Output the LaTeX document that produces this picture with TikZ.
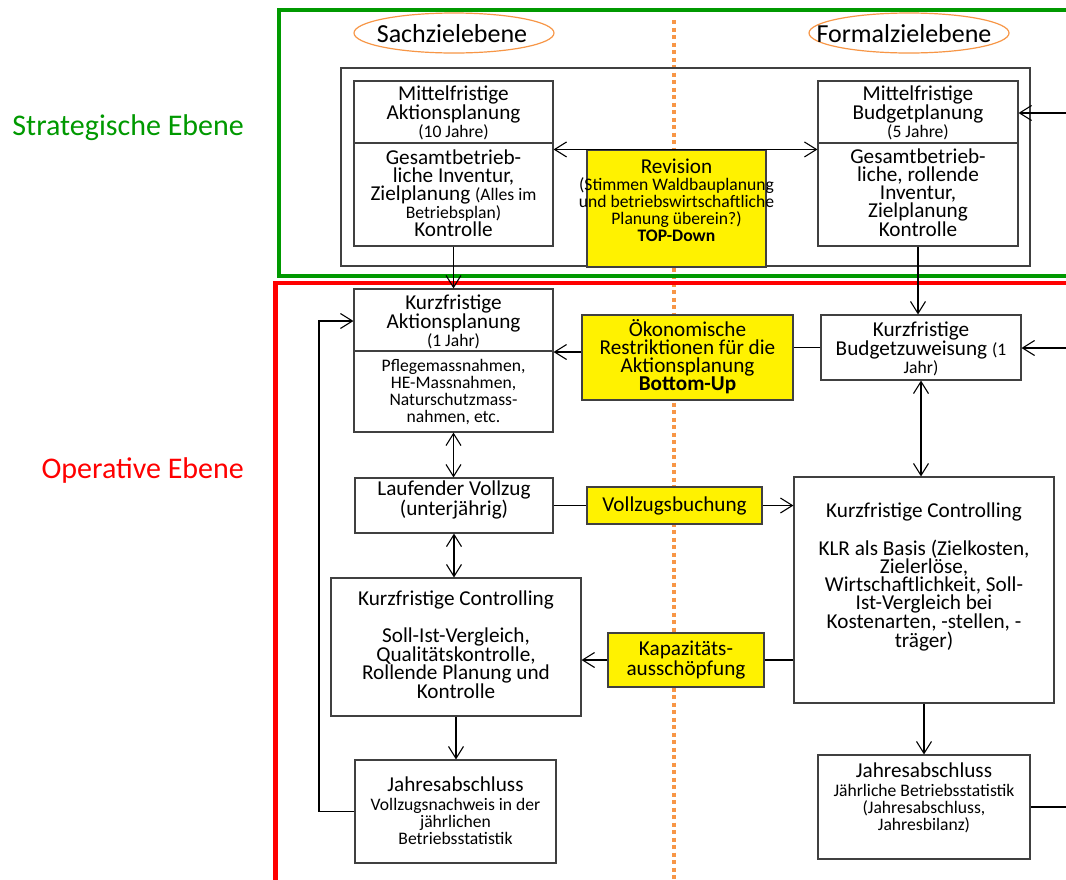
\documentclass[tikz,border=0pt]{standalone}
\usepackage{fontspec}
\setmainfont{Carlito}
\usetikzlibrary{arrows.meta,shapes.geometric}
\definecolor{stratgreen}{RGB}{0,153,0}
\definecolor{opred}{RGB}{255,0,0}
\definecolor{dotorange}{RGB}{247,150,70}
\definecolor{boxline}{RGB}{64,64,64}
\newcommand\fmain{\fontsize{21.2}{18}\selectfont}
\newcommand\fsmall{\fontsize{17.6}{17}\selectfont}
\begin{document}
\begin{tikzpicture}[x=1pt,y=-1pt,
  bx/.style={draw=boxline, line width=1.1pt, fill=white, inner sep=0pt},
  yb/.style={draw=boxline, line width=1.1pt, fill=yellow, inner sep=0pt},
  txt/.style={align=center, inner sep=0pt, font=\fmain},
  stxt/.style={align=center, inner sep=0pt, font=\fsmall},
  ell/.style={ellipse, draw=dotorange, line width=1.2pt, inner sep=0pt, minimum width=200pt, minimum height=40pt},
  etxt/.style={inner sep=0pt, font=\fontsize{26}{28}\selectfont},
  con/.style={line width=1.1pt, black},
  arr/.style={con, -{Straight Barb[length=12pt,width=15pt]}},
  darr/.style={con, {Straight Barb[length=12pt,width=15pt]}-{Straight Barb[length=12pt,width=15pt]}},
  level/.style={anchor=base east, inner sep=0pt, font=\fontsize{30}{32}\selectfont},
]
\clip (0,0) rectangle (1066,879);
\fill[white] (0,0) rectangle (1066,879);

% orange dotted divider
\draw[dotorange, line width=4pt, dash pattern=on 4pt off 3.5pt] (673.5,20) -- (673.5,890);

% level frames
\draw[stratgreen, line width=4.5pt] (1090,10) -- (279,10) -- (279,276) -- (1090,276);
\draw[opred, line width=4.5pt] (1090,283) -- (275.5,283) -- (275.5,900);

% level labels
\node[level, text=stratgreen] (lstrat) at (244,135) {Strategische Ebene};
\node[level, text=opred] (lop) at (244,478) {Operative Ebene};

% ellipses
\node[ell] (sach) at (454,33) {};
\node[etxt] (tsach) at (452,34) {Sachzielebene};
\node[ell] (formal) at (909,33) {};
\node[etxt] (tformal) at (904,34) {Formalzielebene};

% strategic frame box
\node[draw=boxline, line width=1.1pt, inner sep=0pt, minimum width=689pt, minimum height=198pt] (strat) at (685.5,167) {};

% boxes
\node[bx, minimum width=199pt, minimum height=165pt] (TL) at (453.5,163.5) {};
\draw[boxline, line width=1.1pt] (TL.west |- 0,143) -- (TL.east |- 0,143);
\node[bx, minimum width=200pt, minimum height=165pt] (TR) at (918,163.5) {};
\draw[boxline, line width=1.1pt] (TR.west |- 0,143) -- (TR.east |- 0,143);
\node[yb, minimum width=179pt, minimum height=117pt] (Rev) at (676.5,208.5) {};

\node[bx, minimum width=199pt, minimum height=143pt] (KA) at (453.5,360.5) {};
\draw[boxline, line width=1.1pt] (KA.west |- 0,351) -- (KA.east |- 0,351);
\node[yb, minimum width=211pt, minimum height=85pt] (OEK) at (687.5,357.5) {};
\node[bx, minimum width=200pt, minimum height=65pt] (BZ) at (921,347.5) {};

\node[bx, minimum width=198pt, minimum height=55pt] (LV) at (454,505.5) {};
\node[yb, minimum width=175pt, minimum height=37pt] (VB) at (674.5,505.5) {};
\node[bx, minimum width=260pt, minimum height=226pt] (KCR) at (924,590) {};

\node[bx, minimum width=250pt, minimum height=138pt] (KCL) at (456,647) {};
\node[yb, minimum width=156pt, minimum height=54pt] (KAP) at (686,660) {};

\node[bx, minimum width=201pt, minimum height=103pt] (JL) at (455.5,811.5) {};
\node[bx, minimum width=212pt, minimum height=104pt] (JR) at (924,807) {};

% texts
\node[txt] (tTL1) at (453.5,113) {Mittelfristige\\Aktionsplanung\\{\fsmall(10 Jahre)}};
\node[txt] (tTL2) at (453.5,193) {Gesamtbetrieb-\\liche Inventur,\\Zielplanung {\fsmall(Alles im}\\{\fsmall Betriebsplan)}\\Kontrolle};
\node[txt] (tTR1) at (918,113) {Mittelfristige\\Budgetplanung\\{\fsmall(5 Jahre)}};
\node[txt] (tTR2) at (918,193) {Gesamtbetrieb-\\liche, rollende\\Inventur,\\Zielplanung\\Kontrolle};
\node[stxt] (tRev) at (676.5,200) {{\fmain Revision}\\(Stimmen Waldbauplanung\\und betriebswirtschaftliche\\Planung überein?)\\\textbf{TOP-Down}};

\node[txt] (tKA1) at (453.5,322) {Kurzfristige\\Aktionsplanung\\{\fsmall(1 Jahr)}};
\node[stxt] (tKA2) at (453.5,392) {Pflegemassnahmen,\\HE-Massnahmen,\\Naturschutzmass-\\nahmen, etc.};
\node[txt] (tOEK) at (687.5,357) {Ökonomische\\Restriktionen für die\\Aktionsplanung\\\textbf{Bottom-Up}};
\node[txt] (tBZ) at (921,349) {Kurzfristige\\Budgetzuweisung {\fsmall(1}\\{\fsmall Jahr)}};

\node[txt] (tLV) at (454,500) {Laufender Vollzug\\(unterjährig)};
\node[txt] (tVB) at (674.5,506) {Vollzugsbuchung};
\node[txt] (tKCR) at (924,577) {Kurzfristige Controlling\\[18pt]KLR als Basis (Zielkosten,\\Zielerlöse,\\Wirtschaftlichkeit, Soll-\\Ist-Vergleich bei\\Kostenarten, -stellen, -\\träger)};
\node[txt] (tKCL) at (456,645) {Kurzfristige Controlling\\[17pt]Soll-Ist-Vergleich,\\Qualitätskontrolle,\\Rollende Planung und\\Kontrolle};
\node[txt] (tKAP) at (686,660) {Kapazitäts-\\ausschöpfung};

\node[stxt] (tJL) at (455.5,811) {{\fmain Jahresabschluss}\\[2pt]Vollzugsnachweis in der\\jährlichen\\Betriebsstatistik};
\node[stxt] (tJR) at (924,798) {{\fmain Jahresabschluss}\\[2pt]Jährliche Betriebsstatistik\\(Jahresabschluss,\\Jahresbilanz)};

% connectors
\coordinate (inTR) at (1075,113);
\coordinate (inBZ) at (1075,348);
\coordinate (outJR) at (1075,807);
\coordinate (fb) at (319,321);

\draw[darr] (TL.east |- Rev.north) -- (TR.west |- Rev.north);
\draw[arr] (inTR) -- (inTR -| TR.east);
\draw[arr] (TL.south) -- (KA.north);
\draw[arr] (TR.south) -- (TR.south |- BZ.north);
\draw[arr] ([yshift=5.5pt]OEK.west) coordinate (oa) -- (oa -| KA.east);
\draw[con] (BZ.west) -- (BZ.west -| OEK.east);
\draw[arr] (inBZ) -- (inBZ -| BZ.east);
\draw[darr] (BZ.south) -- (BZ.south |- KCR.north);
\draw[darr] (KA.south) -- (KA.south |- LV.north);
\draw[con] (LV.east) -- (VB.west);
\draw[arr] (VB.east) -- (VB.east -| KCR.west);
\draw[darr] (LV.south) -- (LV.south |- KCL.north);
\draw[con] (KAP.east -| KCR.west) -- (KAP.east);
\draw[arr] (KAP.west) -- (KAP.west -| KCL.east);
\draw[arr] (KCL.south) -- (KCL.south |- JL.north);
\draw[arr] (JL.west) -| (fb) -- (fb -| KA.west);
\draw[arr] (KCR.south) -- (KCR.south |- JR.north);
\draw[con] (JR.east) -- (outJR);
\end{tikzpicture}
\end{document}
